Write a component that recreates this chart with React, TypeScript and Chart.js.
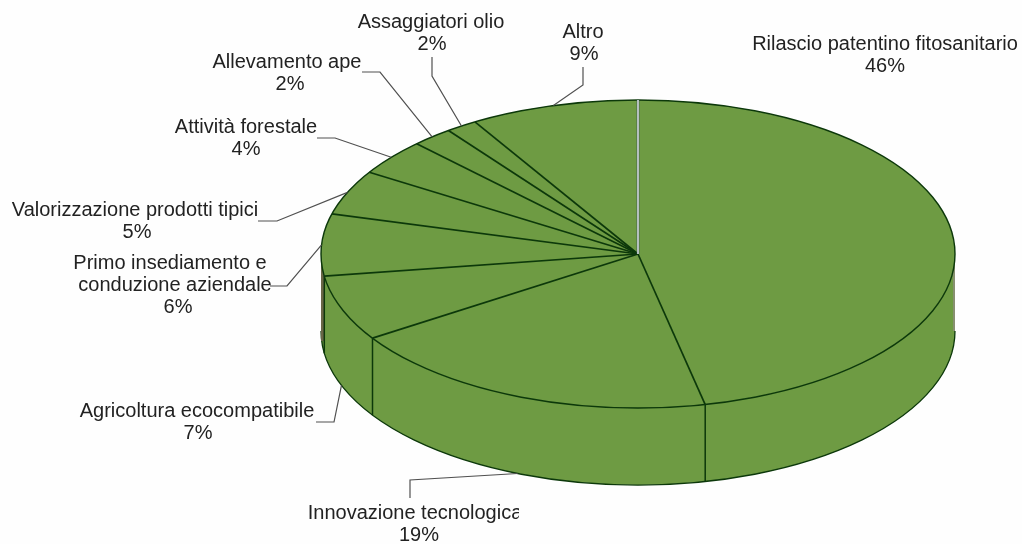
import React, { useEffect, useRef } from "react";
import { Chart, registerables } from "chart.js";

Chart.register(...registerables);

// Data
const categories = [
  "Rilascio patentino fitosanitario",
  "Innovazione tecnologica",
  "Agricoltura ecocompatibile",
  "Primo insediamento e\nconduzione aziendale",
  "Valorizzazione prodotti tipici",
  "Attività forestale",
  "Allevamento ape",
  "Assaggiatori olio",
  "Altro",
];
const sliceShares = [46.6, 19.2, 6.9, 6.5, 4.7, 3.8, 2.1, 1.6, 8.6];
const percentLabels = ["46%", "19%", "7%", "6%", "5%", "4%", "2%", "2%", "9%"];

// Layout of the annotations (separate from the data): centre x of each text line
const labelLineCentres = [
  [885, 885],
  [415, 419],
  [197, 198],
  [170, 175, 178],
  [135, 137],
  [246, 246],
  [287, 290],
  [431, 432],
  [583, 584],
];
const labelFirstLineY = [44, 513, 411, 263, 210, 127, 62, 22, 32];
const labelClipRight = [0, 519, 0, 0, 0, 0, 0, 0, 0];
const leaderPoints: number[][][] = [
  [],
  [[410, 480], [410, 498]],
  [[334, 422], [316, 422]],
  [[287, 286], [270, 286]],
  [[277, 221], [258, 221]],
  [[335, 138], [317, 138]],
  [[380, 72], [362, 72]],
  [[432, 76], [432, 57]],
  [[583, 85], [583, 67]],
];

const PIE_RADIUS = 317;
const SQUASH = 0.486;
const DEPTH = 77;
const GREEN = "#6e9b43";
const SPOKE = "#0c380a";
const LEADER = "#505050";
const TEXT = "#222222";
const FONT = '20px "Liberation Sans", Arial, sans-serif';
const LINE_HEIGHT = 22;

const tiltedPie = {
  id: "tiltedPie",
  beforeDatasetsDraw(chart: any) {
    const arcs = chart.getDatasetMeta(0).data;
    const ctx = chart.ctx;
    const { x, y, outerRadius: r } = arcs[0];
    const ry = r * SQUASH;
    ctx.save();
    // rim of the disc
    ctx.beginPath();
    ctx.ellipse(x, y, r, ry, 0, 0, Math.PI);
    ctx.ellipse(x, y + DEPTH, r, ry, 0, Math.PI, 0, true);
    ctx.closePath();
    ctx.fillStyle = GREEN;
    ctx.fill();
    ctx.beginPath();
    ctx.ellipse(x, y + DEPTH, r, ry, 0, 0, Math.PI);
    ctx.strokeStyle = SPOKE;
    ctx.lineWidth = 1.3;
    ctx.stroke();
    // softer left and right walls
    ctx.strokeStyle = "#6a6647";
    ctx.lineWidth = 3;
    ctx.beginPath();
    ctx.moveTo(x - r + 1.5, y);
    ctx.lineTo(x - r + 1.5, y + DEPTH + 10);
    ctx.stroke();
    ctx.strokeStyle = "#879070";
    ctx.lineWidth = 2;
    ctx.beginPath();
    ctx.moveTo(x + r - 1, y);
    ctx.lineTo(x + r - 1, y + DEPTH);
    ctx.stroke();
    // vertical seams on the rim
    ctx.strokeStyle = SPOKE;
    ctx.lineWidth = 1.5;
    arcs.forEach((arc: any) => {
      const a = arc.endAngle;
      if (Math.sin(a) > 0) {
        const px = x + r * Math.cos(a);
        const py = y + ry * Math.sin(a);
        ctx.beginPath();
        ctx.moveTo(px, py);
        ctx.lineTo(px, py + DEPTH);
        ctx.stroke();
      }
    });
    ctx.restore();
  },
  beforeDatasetDraw(chart: any) {
    const { x, y } = chart.getDatasetMeta(0).data[0];
    const ctx = chart.ctx;
    ctx.save();
    ctx.translate(x, y);
    ctx.scale(1, SQUASH);
    ctx.translate(-x, -y);
  },
  afterDatasetDraw(chart: any) {
    chart.ctx.restore();
  },
  afterDatasetsDraw(chart: any) {
    const arcs = chart.getDatasetMeta(0).data;
    const ctx = chart.ctx;
    const { x, y, outerRadius: r } = arcs[0];
    const ry = r * SQUASH;
    ctx.save();
    // spokes
    ctx.strokeStyle = SPOKE;
    ctx.lineWidth = 1.7;
    arcs.forEach((arc: any, i: number) => {
      if (i === arcs.length - 1) return;
      const a = arc.endAngle;
      ctx.beginPath();
      ctx.moveTo(x, y);
      ctx.lineTo(x + r * Math.cos(a), y + ry * Math.sin(a));
      ctx.stroke();
    });
    // top outline
    ctx.lineWidth = 1.4;
    ctx.beginPath();
    ctx.ellipse(x, y, r, ry, 0, 0, Math.PI * 2);
    ctx.stroke();
    // pale seam at the start angle
    const s = arcs[0].startAngle;
    const ex = x + r * Math.cos(s);
    const ey = y + ry * Math.sin(s);
    ctx.strokeStyle = "#2f4a4a";
    ctx.lineWidth = 2.6;
    ctx.beginPath();
    ctx.moveTo(x, y);
    ctx.lineTo(ex, ey);
    ctx.stroke();
    ctx.strokeStyle = "#eef3f3";
    ctx.lineWidth = 1.4;
    ctx.beginPath();
    ctx.moveTo(x, y);
    ctx.lineTo(ex, ey);
    ctx.stroke();

    // leaders, starting on the pie edge at each slice's middle angle
    ctx.strokeStyle = LEADER;
    ctx.lineWidth = 1.2;
    arcs.forEach((arc: any, i: number) => {
      const bends = leaderPoints[i];
      if (!bends.length) return;
      const mid = (arc.startAngle + arc.endAngle) / 2;
      const sy = y + ry * Math.sin(mid) + (Math.sin(mid) > 0 ? DEPTH : 0);
      ctx.beginPath();
      ctx.moveTo(x + r * Math.cos(mid), sy);
      bends.forEach(([bx, by]) => ctx.lineTo(bx, by));
      ctx.stroke();
    });

    // labels
    ctx.font = FONT;
    ctx.fillStyle = TEXT;
    ctx.textAlign = "center";
    ctx.textBaseline = "middle";
    categories.forEach((name, i) => {
      ctx.save();
      if (labelClipRight[i]) {
        ctx.beginPath();
        ctx.rect(0, 0, labelClipRight[i], chart.height);
        ctx.clip();
      }
      const lines = [...name.split("\n"), percentLabels[i]];
      lines.forEach((line, j) => {
        ctx.fillText(line, labelLineCentres[i][j], labelFirstLineY[i] + j * LINE_HEIGHT);
      });
      ctx.restore();
    });
    ctx.restore();
  },
};

export default function App() {
  const canvasRef = useRef<HTMLCanvasElement>(null);
  useEffect(() => {
    const chart = new Chart(canvasRef.current as HTMLCanvasElement, {
      type: "pie",
      data: {
        labels: categories,
        datasets: [
          {
            data: sliceShares,
            backgroundColor: GREEN,
            borderWidth: 0,
            radius: PIE_RADIUS,
            clip: false,
          } as any,
        ],
      },
      options: {
        responsive: false,
        animation: false,
        events: [],
        layout: { padding: { left: 254, right: 0, top: 0, bottom: 36 } },
        plugins: { legend: { display: false }, tooltip: { enabled: false } },
      },
      plugins: [tiltedPie],
    });
    return () => chart.destroy();
  }, []);
  return (
    <div style={{ position: "fixed", left: 0, top: 0, width: 1022, height: 544, background: "#fefefe" }}>
      <canvas ref={canvasRef} width={1022} height={544} style={{ display: "block" }} />
    </div>
  );
}
